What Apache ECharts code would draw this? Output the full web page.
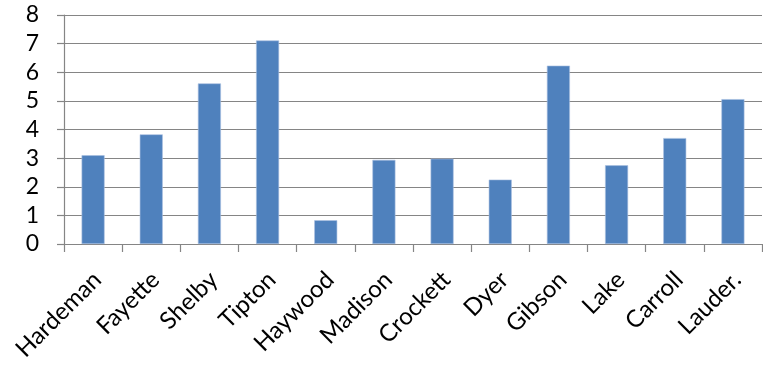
<!DOCTYPE html>
<html>
<head>
<meta charset="utf-8">
<style>
  html, body { margin: 0; padding: 0; background: #fff; }
  #chart { width: 763px; height: 369px; }
</style>
<script src="https://cdn.jsdelivr.net/npm/echarts@6/dist/echarts.min.js"></script>
</head>
<body>
<div id="chart"></div>
<script>
// County names along the horizontal axis
const counties = ['Hardeman', 'Fayette', 'Shelby', 'Tipton', 'Haywood', 'Madison',
                  'Crockett', 'Dyer', 'Gibson', 'Lake', 'Carroll', 'Lauder.'];
// One value per county
const values = [3.10, 3.83, 5.61, 7.11, 0.83, 2.94, 2.98, 2.25, 6.23, 2.75, 3.70, 5.06];
// Vertical scale
const yMin = 0;
const yMax = 8;
const yStep = 1;

const chart = echarts.init(document.getElementById('chart'), null, { renderer: 'canvas' });
const gridGray = '#858585';
const fontFamily = 'Lato, "Open Sans", sans-serif';

chart.setOption({
  animation: false,
  backgroundColor: '#ffffff',
  grid: { left: 64, right: 1, top: 15, bottom: 125, containLabel: false },
  xAxis: {
    type: 'category',
    data: counties,
    boundaryGap: true,
    axisLine: { show: true, lineStyle: { color: gridGray, width: 1.2 } },
    axisTick: { show: true, length: 8, lineStyle: { color: gridGray, width: 1.2 } },
    axisLabel: {
      rotate: 45,
      margin: 36,
      interval: 0,
      color: '#000',
      fontSize: 24,
      fontFamily: fontFamily,
      padding: [0, -6, 0, 0]
    },
    splitLine: { show: false }
  },
  yAxis: {
    type: 'value',
    min: yMin,
    max: yMax,
    interval: yStep,
    axisLine: { show: true, lineStyle: { color: gridGray, width: 1.2 } },
    axisTick: { show: true, length: 7, lineStyle: { color: gridGray, width: 1.2 } },
    axisLabel: {
      margin: 25,
      color: '#000',
      fontSize: 23,
      fontFamily: fontFamily
    },
    splitLine: { show: true, lineStyle: { color: gridGray, width: 1.2 } }
  },
  series: [{
    type: 'bar',
    data: values,
    barWidth: 23,
    itemStyle: { color: '#4f81bd', borderColor: '#a9c0e0', borderWidth: 0.6 }
  }]
});
</script>
</body>
</html>
